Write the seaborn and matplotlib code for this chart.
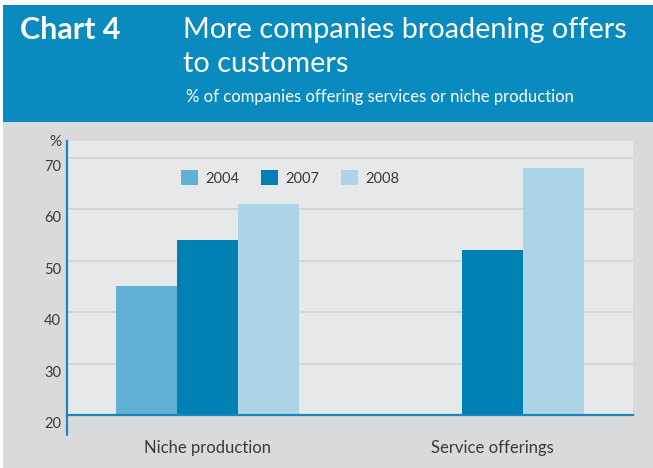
import matplotlib
matplotlib.use("Agg")
import matplotlib.pyplot as plt
import matplotlib.patches as mpatches
from matplotlib.lines import Line2D
from matplotlib.transforms import offset_copy
import seaborn as sns
import pandas as pd
import numpy as np

categories = ["Niche production", "Service offerings"]
years = ["2004", "2007", "2008"]
niche_values = [45, 54, 61]
service_values = [np.nan, 52, 68]
yticks = [20, 30, 40, 50, 60, 70]

colors = {"2004": "#62b1d4", "2007": "#0080b3", "2008": "#aed4e8"}
BLUE = "#0a8bbf"
AXBLUE = "#1a86bb"
TXT = "#3a3a3a"

rows = []
for y, v in zip(years, niche_values):
    rows.append({"category": categories[0], "year": y, "value": v})
for y, v in zip(years, service_values):
    rows.append({"category": categories[1], "year": y, "value": v})
df = pd.DataFrame(rows)

sns.set_theme(style="white")
plt.rcParams["font.family"] = ["Lato", "DejaVu Sans"]

W, H = 653, 468
fig = plt.figure(figsize=(W / 100, H / 100), dpi=100, facecolor="white")

def fx(x):
    return x / W

def fy(y):
    return 1 - y / H

# background panels
fig.patches.append(mpatches.Rectangle((fx(3), 0), 1 - fx(3), fy(122), transform=fig.transFigure,
                                      facecolor="#d9dadc", edgecolor="none", zorder=-10))
fig.patches.append(mpatches.Rectangle((fx(3), fy(122)), 1 - fx(3), fy(5) - fy(122), transform=fig.transFigure,
                                      facecolor=BLUE, edgecolor="none", zorder=-10))

# header texts
fig.text(fx(20), fy(30), "Chart 4", color="white", fontsize=22, fontweight="bold", va="center", ha="left")
fig.text(fx(183), fy(30), "More companies broadening offers", color="white", fontsize=20.8,
         fontweight="normal", va="center", ha="left")
fig.text(fx(183), fy(64), "to customers", color="white", fontsize=20.8,
         fontweight="normal", va="center", ha="left")
fig.text(fx(186), fy(97), "% of companies offering services or niche production", color="white",
         fontsize=12, fontweight="normal", va="center", ha="left")

ax = fig.add_axes([fx(67), fy(415), fx(633) - fx(67), fy(141) - fy(415)])
ax.set_facecolor("#e7e8ea")

sns.barplot(data=df, x="category", y="value", hue="year", hue_order=years, order=categories,
            palette=colors, width=0.644, saturation=1, dodge=True, ax=ax, legend=False,
            edgecolor="none", linewidth=0, err_kws={"linewidth": 0})

ax.set_xlim(-0.495, 1.495)
ax.set_ylim(20, 73.3)
ax.set_xlabel("")
ax.set_ylabel("")

for s in ["top", "right"]:
    ax.spines[s].set_visible(False)
for s in ["left", "bottom"]:
    ax.spines[s].set_color(AXBLUE)
    ax.spines[s].set_linewidth(1.6)
    ax.spines[s].set_zorder(5)

# grid
ax.set_yticks(yticks)
ax.yaxis.grid(True, color="#d2d3d5", linewidth=1.3)
ax.xaxis.grid(False)
ax.set_axisbelow(True)

# y ticks: long ticks to left, labels below tick lines
ax.tick_params(axis="y", which="major", length=19.5, width=1.4, color=AXBLUE, direction="out",
               labelleft=False)
for v in yticks:
    ax.text(-6 / 566, v, str(v),
            transform=offset_copy(ax.get_yaxis_transform(), fig=fig, x=0, y=-9, units="dots"),
            ha="right", va="center", fontsize=10.5, color=TXT)
ax.text(-5 / 566, 73.3, "%", transform=offset_copy(ax.get_yaxis_transform(), fig=fig, x=0, y=-1, units="dots"),
        ha="right", va="center", fontsize=11, color=TXT)

# x ticks
ax.set_xticks([0, 1])
ax.set_xticklabels(categories)
ax.set_xticks([-0.495, 0.5, 1.495], minor=True)
ax.tick_params(axis="x", which="major", length=0, pad=18, labelsize=12, labelcolor=TXT)
ax.tick_params(axis="x", which="minor", length=9.5, width=1.4, color=AXBLUE, direction="out")

# left spine extension below axis
ax.add_line(Line2D([0, 0], [0, -20 / 274], transform=ax.transAxes, color=AXBLUE, lw=1.6, clip_on=False))

# legend
handles = [mpatches.Patch(facecolor=colors[y], edgecolor="none", label=y) for y in years]
leg = ax.legend(handles=handles, ncol=3, frameon=False, loc="center", bbox_to_anchor=(0.394, 0.865),
                handlelength=1.15, handleheight=1.15, handletextpad=0.5, columnspacing=1.5,
                fontsize=10.5, labelcolor=TXT)

fig.savefig("out.png", dpi=100, facecolor=fig.get_facecolor())
